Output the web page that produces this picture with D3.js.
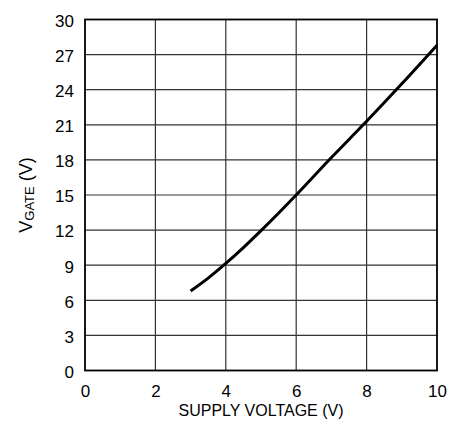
<!DOCTYPE html>
<html>
<head>
<meta charset="utf-8">
<script src="https://cdnjs.cloudflare.com/ajax/libs/d3/7.8.5/d3.min.js"></script>
<style>
  body { margin: 0; background: #fff; overflow: hidden; }
  svg { display: block; }
  text { font-family: "Liberation Sans", Arial, sans-serif; fill: #000; }
</style>
</head>
<body>
<svg id="chart" width="458" height="421"></svg>
<script>
// supply voltage (V) vs gate voltage (V)
let supplyV = [3, 3.5, 4, 4.5, 5, 6, 7, 8, 9, 10];
let gateV = [6.8, 7.9, 9.15, 10.5, 11.95, 15.0, 18.2, 21.3, 24.5, 27.8];
let xTicks = [0, 2, 4, 6, 8, 10];
let yTicks = [0, 3, 6, 9, 12, 15, 18, 21, 24, 27, 30];

let plotLeft = 85, plotRight = 437, plotTop = 19.5, plotBottom = 370.5;

let svg = d3.select("#chart");

let x = d3.scaleLinear().domain([0, 10]).range([plotLeft, plotRight]);
let y = d3.scaleLinear().domain([0, 30]).range([plotBottom, plotTop]);

// grid
svg.append("g")
    .selectAll("line")
    .data(xTicks.slice(1, -1))
    .enter().append("line")
    .attr("x1", d => x(d)).attr("x2", d => x(d))
    .attr("y1", plotTop).attr("y2", plotBottom)
    .style("stroke", "#333").style("stroke-width", "1.2px");

svg.append("g")
    .selectAll("line")
    .data(yTicks.slice(1, -1))
    .enter().append("line")
    .attr("x1", plotLeft).attr("x2", plotRight)
    .attr("y1", d => y(d)).attr("y2", d => y(d))
    .style("stroke", "#333").style("stroke-width", "1.2px");

// frame
svg.append("rect")
    .attr("x", plotLeft).attr("y", plotTop)
    .attr("width", plotRight - plotLeft).attr("height", plotBottom - plotTop)
    .style("fill", "none").style("stroke", "#000").style("stroke-width", "1.8px");

// axes (labels only)
let xAxis = svg.append("g")
    .attr("transform", "translate(0," + plotBottom + ")")
    .call(d3.axisBottom(x).tickValues(xTicks).tickSize(0).tickPadding(14));
let yAxis = svg.append("g")
    .attr("transform", "translate(" + plotLeft + ",0)")
    .call(d3.axisLeft(y).tickValues(yTicks).tickSize(0).tickPadding(11));
[xAxis, yAxis].forEach(function(a) {
    a.select(".domain").remove();
    a.attr("font-family", null).attr("font-size", null);
    a.selectAll("text").style("font-size", "17px");
});
yAxis.selectAll("text").attr("dy", "0.4em");

// curve
let pts = supplyV.map((v, i) => [v, gateV[i]]);
svg.append("path")
    .datum(pts)
    .attr("d", d3.line().x(d => x(d[0])).y(d => y(d[1])).curve(d3.curveMonotoneX))
    .style("fill", "none").style("stroke", "#000").style("stroke-width", "3px");

// titles
svg.append("text")
    .attr("x", (plotLeft + plotRight) / 2).attr("y", 416)
    .attr("text-anchor", "middle")
    .attr("textLength", 165).attr("lengthAdjust", "spacingAndGlyphs")
    .style("font-size", "17px")
    .text("SUPPLY VOLTAGE (V)");

let yl = svg.append("text")
    .attr("transform", "translate(32," + ((plotTop + plotBottom) / 2) + ") rotate(-90)")
    .attr("text-anchor", "middle")
    .style("font-size", "18px");
yl.append("tspan").text("V");
yl.append("tspan").attr("dy", 2).style("font-size", "13px").text("GATE");
yl.append("tspan").attr("dy", -2).text(" (V)");
</script>
</body>
</html>
